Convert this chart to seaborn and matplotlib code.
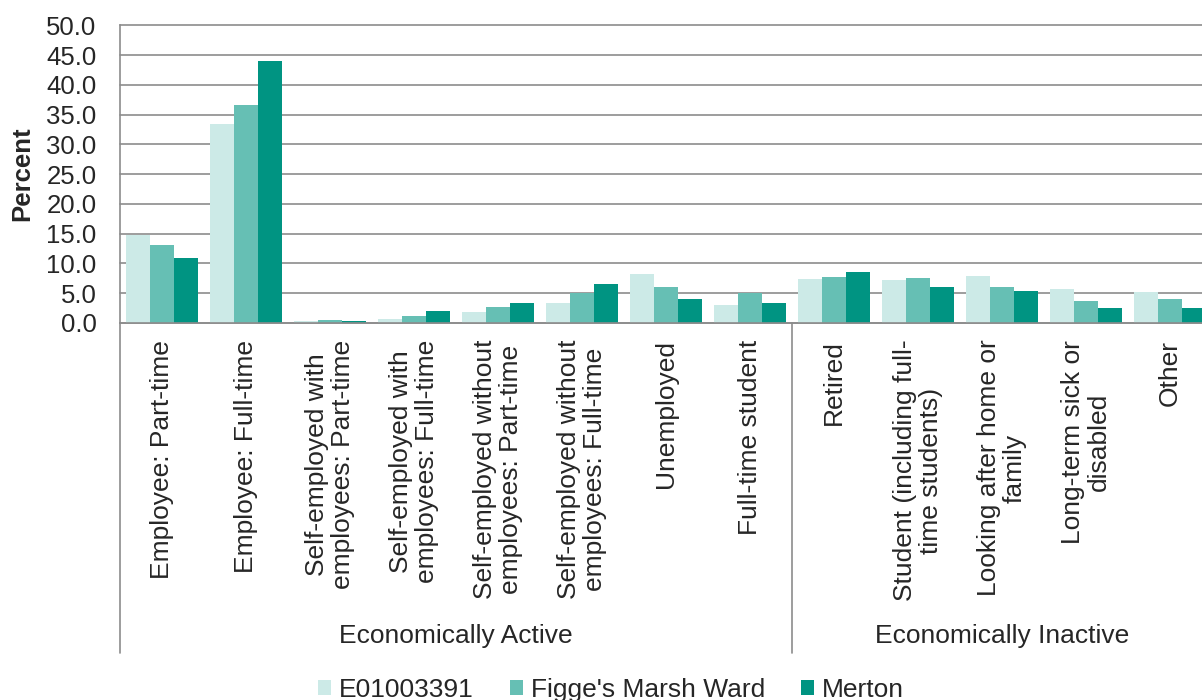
import matplotlib
matplotlib.use("Agg")
import matplotlib.pyplot as plt
import matplotlib.transforms as mtransforms
from matplotlib.lines import Line2D
import pandas as pd
import seaborn as sns

# Economic activity of residents aged 16-74 (percent)
categories = [
    "Employee: Part-time",
    "Employee: Full-time",
    "Self-employed with\nemployees: Part-time",
    "Self-employed with\nemployees: Full-time",
    "Self-employed without\nemployees: Part-time",
    "Self-employed without\nemployees: Full-time",
    "Unemployed",
    "Full-time student",
    "Retired",
    "Student (including full-\ntime students)",
    "Looking after home or\nfamily",
    "Long-term sick or\ndisabled",
    "Other",
]
groups = ["Economically Active", "Economically Inactive"]
group_sizes = [8, 5]

series = ["E01003391", "Figge's Marsh Ward", "Merton"]
e01003391 = [14.7, 33.4, 0.4, 0.7, 1.8, 3.3, 8.3, 3.0, 7.4, 7.3, 7.9, 5.7, 5.2]
figges_marsh = [13.1, 36.6, 0.5, 1.1, 2.7, 5.0, 6.1, 5.1, 7.7, 7.5, 6.1, 3.7, 4.1]
merton = [11.0, 44.0, 0.3, 2.0, 3.4, 6.5, 4.0, 3.4, 8.6, 6.1, 5.3, 2.5, 2.5]
colors = ["#CCEAE7", "#66BFB4", "#009482"]

yticks = [0, 5, 10, 15, 20, 25, 30, 35, 40, 45, 50]

df = pd.DataFrame({
    "category": categories * 3,
    "series": [s for s in series for _ in categories],
    "value": e01003391 + figges_marsh + merton,
})

sns.set_theme(style="white")
plt.rcParams["font.family"] = ["Liberation Sans", "DejaVu Sans"]

W, H = 1202, 700
fig = plt.figure(figsize=(W / 100, H / 100), dpi=100)
# plot area in pixels: left 120, top 25, bottom 323, category pitch 84 px
left_px, top_px, bottom_px = 120, 25.3, 323
plot_w = 84 * len(categories)
ax = fig.add_axes([left_px / W, 1 - bottom_px / H, plot_w / W, (bottom_px - top_px) / H])

sns.barplot(data=df, x="category", y="value", hue="series", order=categories,
            hue_order=series, palette=colors, width=72 / 84, gap=0,
            saturation=1, linewidth=0, ax=ax)

grid_color = "#8C8C8C"
ax.set_ylim(0, 50)
ax.set_xlim(-0.5, len(categories) - 0.5)
ax.set_yticks(yticks)
ax.set_yticklabels([f"{v:.1f}" for v in yticks], fontsize=18.5)
ax.yaxis.grid(True, color=grid_color, linewidth=1.2)
ax.set_axisbelow(True)
for gl in ax.get_ygridlines():
    gl.set_clip_on(False)
ax.tick_params(axis="both", length=0)
ax.tick_params(axis="y", pad=17)
ax.tick_params(axis="x", pad=12)
ax.set_xticks(range(len(categories)))
ax.set_xticklabels(categories, rotation=90, fontsize=19, ha="center", va="top",
                   multialignment="center", linespacing=1.08)
ax.set_xlabel("")
ax.set_ylabel("")
for side in ["top", "right"]:
    ax.spines[side].set_visible(False)
for side in ["left", "bottom"]:
    ax.spines[side].set_color(grid_color)
    ax.spines[side].set_linewidth(1.2)

fig.text(22 / W, 1 - 174 / H, "Percent", rotation=90, ha="center", va="center",
         fontsize=18.5, fontweight="bold")

# group separators and group labels below the category labels
trans = mtransforms.blended_transform_factory(ax.transData, ax.transAxes)
axes_h = bottom_px - top_px
sep_bottom = -(653 - bottom_px) / axes_h
label_y = -(636 - bottom_px) / axes_h
bounds = [-0.5]
for n in group_sizes:
    bounds.append(bounds[-1] + n)
for b in bounds:
    ax.add_line(Line2D([b, b], [0, sep_bottom], transform=trans, color=grid_color,
                       linewidth=1.2, clip_on=False))
for g, a, b in zip(groups, bounds[:-1], bounds[1:]):
    ax.text((a + b) / 2, label_y, g, transform=trans, ha="center", va="center",
            fontsize=19)

sns.move_legend(ax, "center", bbox_to_anchor=((611 - left_px) / plot_w, -(690 - bottom_px) / axes_h),
                ncol=3, frameon=False, title=None, fontsize=19, handlelength=0.5,
                handleheight=0.5, handletextpad=0.3, columnspacing=1.35)

fig.savefig("out.png", dpi=100, facecolor="white")
